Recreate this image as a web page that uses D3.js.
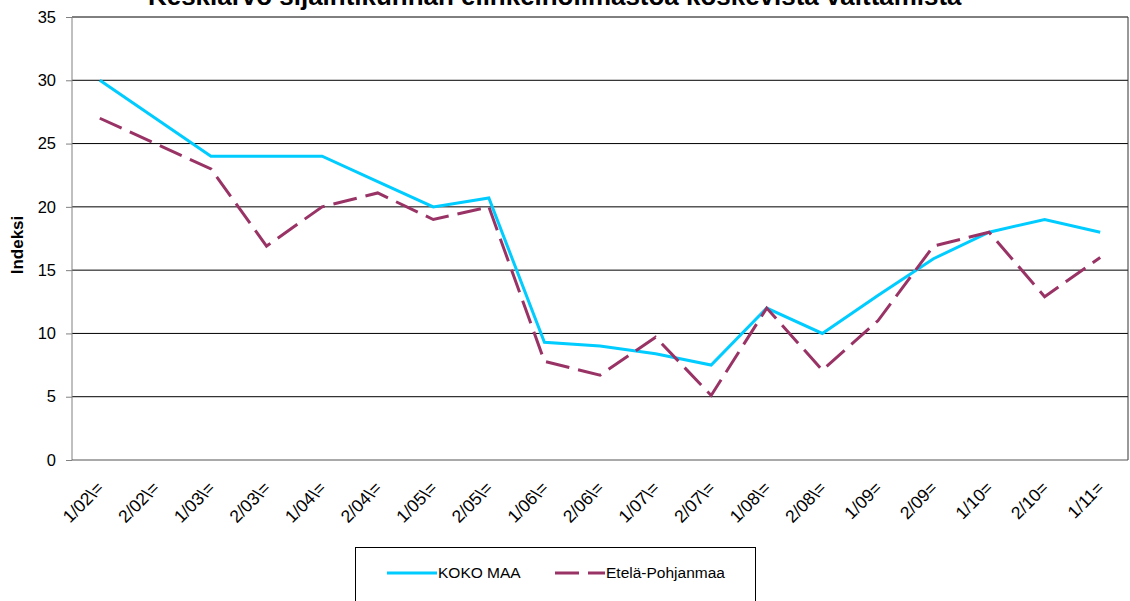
<!DOCTYPE html>
<html>
<head>
<meta charset="utf-8">
<script src="https://cdn.jsdelivr.net/npm/d3@7"></script>
<style>
  body { margin: 0; background: #fff; }
  svg { display: block; font-family: "Liberation Sans", Arial, sans-serif; }
</style>
</head>
<body>
<svg id="chart" width="1130" height="601"></svg>
<script>
var titleText = "Keskiarvo sijaintikunnan elinkeinoilmastoa koskevista väittämistä";
var categories = ["1/02\\=", "2/02\\=", "1/03\\=", "2/03\\=", "1/04\\=", "2/04\\=", "1/05\\=", "2/05\\=",
    "1/06\\=", "2/06\\=", "1/07\\=", "2/07\\=", "1/08\\=", "2/08\\=", "1/09=", "2/09=", "1/10=", "2/10=", "1/11="];
var kokoMaa = [30, 27, 24, 24, 24, 22, 20, 20.7, 9.3, 9.0, 8.4, 7.5, 12, 10, 13, 15.9, 18, 19, 18];
var etelaPohjanmaa = [27, 25, 23, 16.9, 20, 21.1, 19, 20, 7.8, 6.7, 9.7, 5.1, 12, 7.1, 11, 16.9, 18, 12.9, 16];
var yTicks = [0, 5, 10, 15, 20, 25, 30, 35];
var seriesNames = ["KOKO MAA", "Etelä-Pohjanmaa"];

var svg = d3.select("#chart");
var plotLeft = 72, plotRight = 1128, plotTop = 17, plotBottom = 460;

var x = d3.scaleBand().domain(categories).range([plotLeft, plotRight]);
var y = d3.scaleLinear().domain([0, 35]).range([plotBottom, plotTop]);

// gridlines
svg.append("g")
    .selectAll("line")
    .data(yTicks.slice(1))
    .enter().append("line")
    .attr("x1", plotLeft).attr("x2", plotRight)
    .attr("y1", function (d) { return y(d); })
    .attr("y2", function (d) { return y(d); })
    .attr("stroke", "#000")
    .attr("stroke-width", 1);

// right border of plot area
svg.append("line")
    .attr("x1", plotRight).attr("x2", plotRight)
    .attr("y1", plotTop).attr("y2", plotBottom)
    .attr("stroke", "#333");

// y axis
var yAxis = svg.append("g")
    .attr("transform", "translate(" + plotLeft + ",0)")
    .call(d3.axisLeft(y).tickValues(yTicks).tickSize(6).tickPadding(10).tickFormat(d3.format("d")));
yAxis.select(".domain").attr("stroke", "#808080").attr("d", "M0," + plotTop + "V" + plotBottom);
yAxis.selectAll(".tick line").attr("stroke", "#808080");
yAxis.selectAll(".tick text")
    .attr("font-size", 16.5)
    .attr("font-family", "Liberation Sans, Arial, sans-serif")
    .attr("fill", "#000");

// x axis
var xAxis = svg.append("g")
    .attr("transform", "translate(0," + plotBottom + ")")
    .call(d3.axisBottom(x).tickSize(0).tickPadding(0));
xAxis.select(".domain").attr("stroke", "#555").attr("d", "M" + plotLeft + ",0H" + plotRight);
xAxis.selectAll(".tick text")
    .attr("font-size", 17.5)
    .attr("font-family", "Liberation Sans, Arial, sans-serif")
    .attr("fill", "#000")
    .attr("text-anchor", "end")
    .attr("y", 0).attr("dy", 0)
    .attr("transform", "translate(5,29) rotate(-45)");

// series
var line = d3.line()
    .x(function (d, i) { return x(categories[i]) + x.bandwidth() / 2; })
    .y(function (d) { return y(d); });

svg.append("path")
    .datum(kokoMaa)
    .attr("d", line)
    .attr("fill", "none")
    .attr("stroke", "#00ccff")
    .attr("stroke-width", 3);

svg.append("path")
    .datum(etelaPohjanmaa)
    .attr("d", line)
    .attr("fill", "none")
    .attr("stroke", "#993366")
    .attr("stroke-width", 3)
    .attr("stroke-dasharray", "24,9");

// y label
svg.append("text")
    .attr("transform", "translate(23,245) rotate(-90)")
    .attr("text-anchor", "middle")
    .attr("font-size", 17)
    .attr("font-weight", "bold")
    .text("Indeksi");

// title (partly cut off at the top)
var title = svg.append("text")
    .attr("x", 148)
    .attr("y", 5)
    .attr("font-size", 20)
    .attr("font-weight", "bold")
    .text(titleText);
var tw = title.node().getComputedTextLength();
title.attr("font-size", 20 * 814 / tw);

// legend
var legend = svg.append("g").attr("transform", "translate(355,547)");
legend.append("rect")
    .attr("x", 0.5).attr("y", 0.5)
    .attr("width", 400).attr("height", 80)
    .attr("fill", "#fff")
    .attr("stroke", "#000");
var items = [
    {name: seriesNames[0], color: "#00ccff", dash: null, x: 32},
    {name: seriesNames[1], color: "#993366", dash: "24,9", x: 200}
];
items.forEach(function (it) {
    legend.append("line")
        .attr("x1", it.x).attr("x2", it.x + 50)
        .attr("y1", 26).attr("y2", 26)
        .attr("stroke", it.color)
        .attr("stroke-width", 3)
        .attr("stroke-dasharray", it.dash);
    legend.append("text")
        .attr("x", it.x + 51)
        .attr("y", 26)
        .attr("dy", "0.35em")
        .attr("font-size", 15.5)
        .text(it.name);
});
</script>
</body>
</html>
